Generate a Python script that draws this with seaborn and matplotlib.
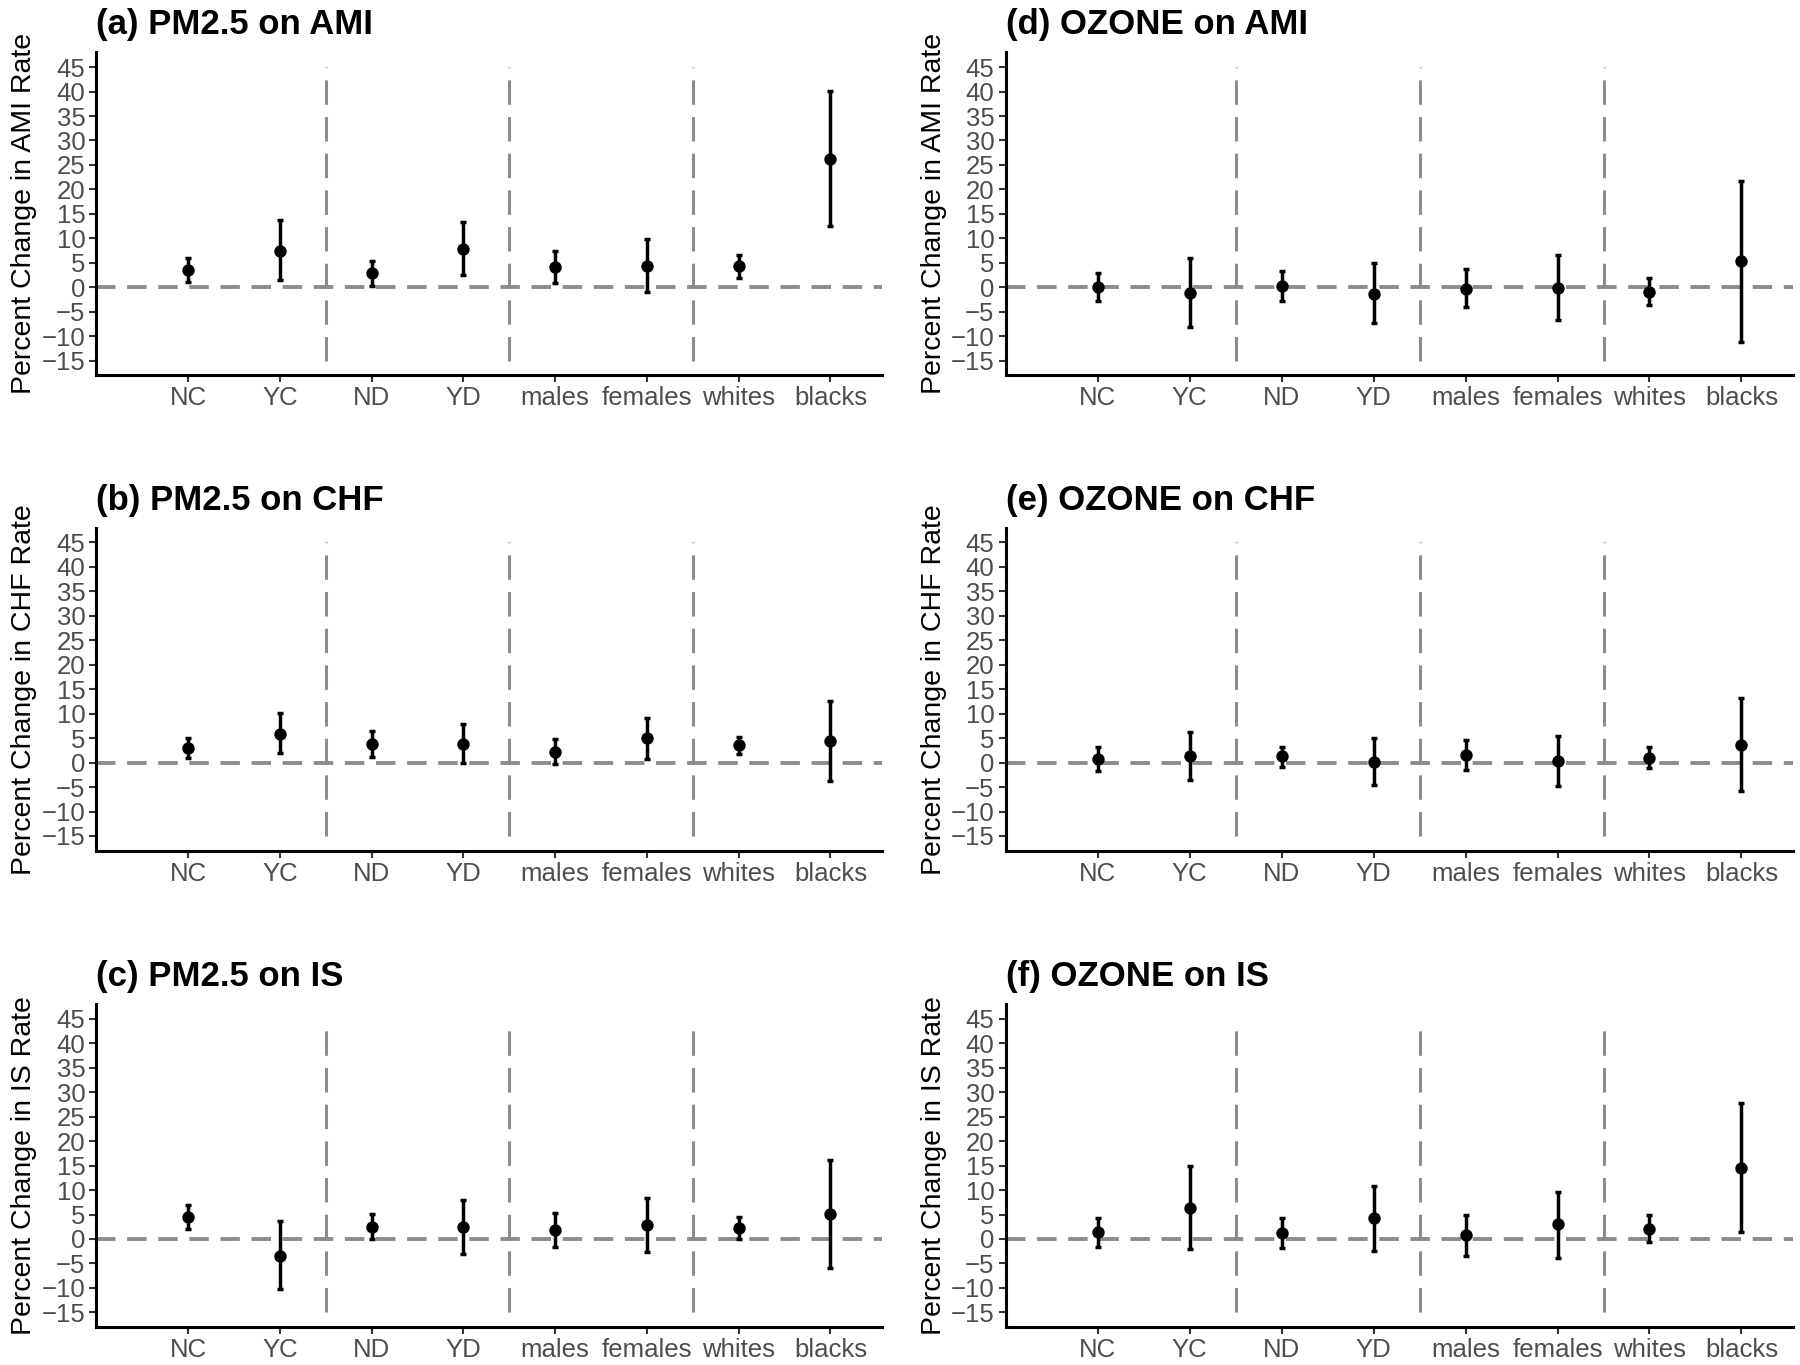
import matplotlib
matplotlib.use("Agg")
import matplotlib.pyplot as plt
import seaborn as sns
import pandas as pd

# 그룹 이름
groups = ["NC", "YC", "ND", "YD", "males", "females", "whites", "blacks"]

# (a) PM2.5 on AMI
pm_ami_est = [3.5, 7.5, 2.9, 7.8, 4.1, 4.4, 4.4, 26.3]
pm_ami_lo = [1.0, 1.5, 0.3, 2.5, 0.8, -0.9, 2.0, 12.6]
pm_ami_hi = [6.0, 13.7, 5.4, 13.3, 7.4, 9.8, 6.7, 40.2]

# (b) PM2.5 on CHF
pm_chf_est = [2.9, 5.9, 3.8, 3.9, 2.2, 5.0, 3.5, 4.4]
pm_chf_lo = [0.9, 1.9, 1.2, 0.0, -0.3, 0.8, 1.8, -3.7]
pm_chf_hi = [5.0, 10.1, 6.4, 7.9, 4.8, 9.1, 5.3, 12.6]

# (c) PM2.5 on IS
pm_is_est = [4.5, -3.4, 2.5, 2.4, 1.8, 2.9, 2.2, 5.1]
pm_is_lo = [2.0, -10.3, 0.0, -3.1, -1.6, -2.6, -0.1, -6.0]
pm_is_hi = [7.0, 3.7, 5.1, 8.0, 5.3, 8.4, 4.5, 16.2]

# (d) OZONE on AMI
oz_ami_est = [0.1, -1.2, 0.3, -1.3, -0.3, -0.1, -0.9, 5.3]
oz_ami_lo = [-2.9, -8.2, -2.9, -7.3, -4.1, -6.7, -3.7, -11.1]
oz_ami_hi = [3.0, 5.9, 3.4, 4.9, 3.7, 6.5, 2.0, 21.8]

# (e) OZONE on CHF
oz_chf_est = [0.8, 1.3, 1.3, 0.2, 1.6, 0.4, 0.9, 3.5]
oz_chf_lo = [-1.7, -3.6, -0.8, -4.6, -1.5, -4.7, -1.1, -5.8]
oz_chf_hi = [3.2, 6.2, 3.2, 5.1, 4.7, 5.5, 3.1, 13.1]

# (f) OZONE on IS
oz_is_est = [1.5, 6.4, 1.3, 4.2, 0.9, 3.0, 2.1, 14.6]
oz_is_lo = [-1.6, -2.1, -1.8, -2.5, -3.4, -3.8, -0.6, 1.4]
oz_is_hi = [4.3, 14.9, 4.3, 10.9, 5.0, 9.7, 5.0, 27.7]

panels = [
    ("(a) PM2.5 on AMI", "AMI", pm_ami_est, pm_ami_lo, pm_ami_hi),
    ("(b) PM2.5 on CHF", "CHF", pm_chf_est, pm_chf_lo, pm_chf_hi),
    ("(c) PM2.5 on IS", "IS", pm_is_est, pm_is_lo, pm_is_hi),
    ("(d) OZONE on AMI", "AMI", oz_ami_est, oz_ami_lo, oz_ami_hi),
    ("(e) OZONE on CHF", "CHF", oz_chf_est, oz_chf_lo, oz_chf_hi),
    ("(f) OZONE on IS", "IS", oz_is_est, oz_is_lo, oz_is_hi),
]

sns.set_theme(style="white")
plt.rcParams["font.family"] = ["Liberation Sans", "DejaVu Sans"]

fig = plt.figure(figsize=(18, 13.65), dpi=100)

# 축 위치 (왼쪽 열, 오른쪽 열)
col_left = [0.0536, 0.5587]
col_width = [0.4363, 0.4374]
row_bottom = [0.7250, 0.3768, 0.0278]
row_height = 0.2366

yticks = list(range(-15, 50, 5))

for i, (title, outcome, est, lo, hi) in enumerate(panels):
    col = i // 3
    row = i % 3
    ax = fig.add_axes([col_left[col], row_bottom[row], col_width[col], row_height])

    df = pd.DataFrame({"group": groups, "est": est, "lo": lo, "hi": hi})
    df["x"] = range(1, len(groups) + 1)

    # 기준선
    ax.axhline(0, color="#8c8c8c", lw=2.8, dashes=(5, 3), zorder=1)
    ax.vlines([2.5, 4.5, 6.5], -15, 45, color="#8c8c8c", lw=2.2,
              linestyles=[(0, (8, 4))], zorder=1)

    # 신뢰구간
    ax.errorbar(df["x"], df["est"],
                yerr=[df["est"] - df["lo"], df["hi"] - df["est"]],
                fmt="none", ecolor="black", elinewidth=2.5, capsize=2.2,
                capthick=2.5, zorder=2)
    sns.scatterplot(data=df, x="x", y="est", color="black", s=80,
                    edgecolor="black", linewidth=0, ax=ax, zorder=3)

    ax.set_xlim(0, 8.56)
    ax.set_ylim(-18, 48)
    ax.set_xticks(df["x"])
    ax.set_xticklabels(groups, fontsize=18.5, color="#4d4d4d")
    ax.set_yticks(yticks)
    ax.set_yticklabels([str(v).replace("-", "\u2212") for v in yticks],
                       fontsize=18.5, color="#4d4d4d")
    ax.tick_params(axis="both", length=5, width=1.5, color="#333333", pad=3,
                   bottom=True, left=True)
    ax.set_xlabel("")
    ax.set_ylabel(f"Percent Change in {outcome} Rate", fontsize=20.5,
                  color="black", labelpad=3)
    ax.set_title(title, loc="left", fontweight="bold", fontsize=25,
                 color="black", pad=13)
    for side in ["top", "right"]:
        ax.spines[side].set_visible(False)
    for side in ["left", "bottom"]:
        ax.spines[side].set_color("black")
        ax.spines[side].set_linewidth(2.2)

fig.savefig("out.png", dpi=100)
